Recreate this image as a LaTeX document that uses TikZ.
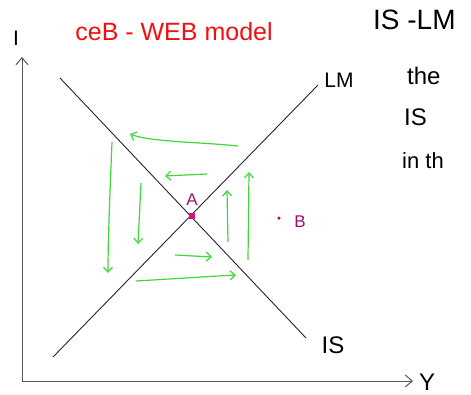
\documentclass[tikz,border=0pt]{standalone}
\usepackage{fontspec}
\setmainfont{Liberation Sans}
\usetikzlibrary{arrows.meta}
\definecolor{axisgray}{HTML}{555555}
\definecolor{cwgreen}{HTML}{3ED83A}
\definecolor{titlered}{HTML}{F01010}
\definecolor{ptpink}{HTML}{E0107A}
\definecolor{lblpurple}{HTML}{A0106A}
\tikzset{
  axis/.style={draw=axisgray, line width=1pt, -{Straight Barb[length=7pt,width=12pt,line width=1pt]}},
  curve/.style={draw=black!85, line width=0.9pt},
  cobweb/.style={draw=cwgreen, line width=1.2pt, -{Straight Barb[length=5pt,width=9pt,line width=1.2pt]}},
  hand/.style={font=\fontsize{21}{23}\selectfont, inner sep=0pt},
  note/.style={font=\fontsize{24}{26}\selectfont, inner sep=0pt, anchor=west},
}
\begin{document}
\begin{tikzpicture}[x=1pt,y=-1pt]
\useasboundingbox (0,0) rectangle (471,394);
% axes
\coordinate (O) at (22,381);
\coordinate (Itop) at (22,57);
\coordinate (Yend) at (413,381);
\draw[axis] (O) -- (Itop);
\draw[axis] (O) -- (Yend);
\node[hand] (ilbl) at (16,38) {I};
\node[hand, font=\fontsize{24}{26}\selectfont] (ylbl) at (427,382) {Y};
% title
\node[hand, text=titlered, font=\fontsize{25}{27}\selectfont] (title) at (174,32) {ceB - WEB model};
% IS and LM curves
\coordinate (is1) at (60,78);
\coordinate (is2) at (306,338);
\coordinate (lm1) at (53,357);
\coordinate (lm2) at (318,85);
\draw[curve] (is1) -- (is2);
\draw[curve] (lm1) -- (lm2);
\node[hand] (lmlbl) at (339,80) {LM};
\node[hand, font=\fontsize{24}{26}\selectfont] (islbl) at (333,345) {IS};
% equilibrium A and point B
\node[fill=ptpink, minimum size=6pt, inner sep=0pt] (A) at (192,216) {};
\node[text=lblpurple, font=\fontsize{17}{19}\selectfont, inner sep=0pt] (Albl) at (192,200) {A};
\node[circle, fill=lblpurple, minimum size=3.5pt, inner sep=0pt] (B) at (279,218) {};
\node[text=lblpurple, font=\fontsize{17}{19}\selectfont, inner sep=0pt] (Blbl) at (300,222) {B};
% cobweb arrows
\coordinate (a1s) at (238,146); \coordinate (a1e) at (130,134);
\coordinate (a2s) at (207,174); \coordinate (a2e) at (165,176);
\coordinate (a3s) at (112,142); \coordinate (a3e) at (108,273);
\coordinate (a4s) at (141,183); \coordinate (a4e) at (138,244);
\coordinate (a5s) at (175,255); \coordinate (a5e) at (212,257);
\coordinate (a6s) at (136,281); \coordinate (a6e) at (236,275);
\coordinate (a7s) at (228,242); \coordinate (a7e) at (227,190);
\coordinate (a8s) at (248,260); \coordinate (a8e) at (249,172);
\draw[cobweb] (a1s) .. controls (200,142) and (150,142) .. (a1e);
\draw[cobweb] (a2s) -- (a2e);
\draw[cobweb] (a3s) .. controls (110,190) and (108,240) .. (a3e);
\draw[cobweb] (a4s) -- (a4e);
\draw[cobweb] (a5s) -- (a5e);
\draw[cobweb] (a6s) .. controls (170,279) and (200,277) .. (a6e);
\draw[cobweb] (a7s) -- (a7e);
\draw[cobweb] (a8s) -- (a8e);
% side notes (cut off at the right edge)
\node[note, font=\fontsize{28}{30}\selectfont] (n1) at (373,20) {IS -LM};
\node[note] (n2) at (407,76) {the};
\node[note] (n3) at (404,117) {IS};
\node[note, font=\fontsize{22}{24}\selectfont] (n4) at (402,161) {in th};
\end{tikzpicture}
\end{document}
